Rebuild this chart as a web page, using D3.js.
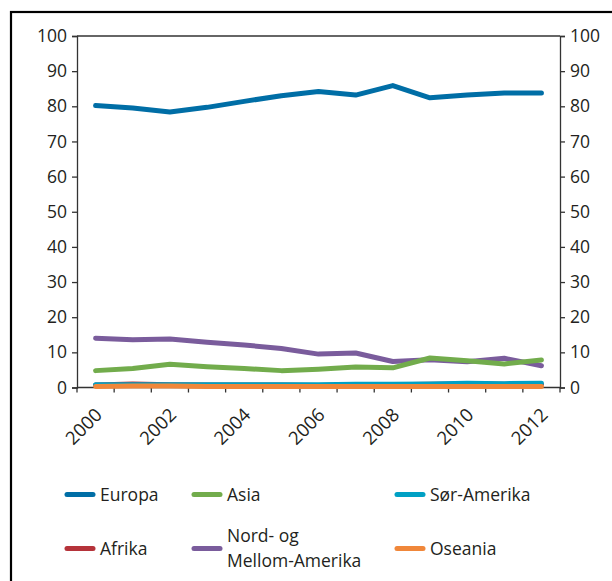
<!DOCTYPE html>
<html><head><meta charset="utf-8">
<script src="https://cdn.jsdelivr.net/npm/d3@7"></script>
<style>body{margin:0;background:#fff}svg{display:block}text{font-family:"Open Sans",sans-serif;fill:#231f20}</style>
</head><body><svg id="c" width="612" height="581"></svg>
<script>
const years = [2000,2001,2002,2003,2004,2005,2006,2007,2008,2009,2010,2011,2012];
const tickYears = [2000,2002,2004,2006,2008,2010,2012];
const yTicks = [0,10,20,30,40,50,60,70,80,90,100];
const europa = [80.2,79.5,78.4,79.7,81.4,83.0,84.2,83.2,85.9,82.4,83.2,83.8,83.8];
const afrika = [0.7,1.0,0.8,0.7,0.7,0.7,0.6,0.8,0.8,0.9,1.0,0.9,0.9];
const nordMellom = [14.0,13.6,13.8,12.9,12.1,11.1,9.5,9.8,7.4,7.9,7.3,8.3,6.2];
const asia = [4.8,5.4,6.6,5.9,5.4,4.8,5.2,5.8,5.6,8.4,7.6,6.7,7.8];
const sorAmerika = [0.8,0.8,0.8,0.8,0.8,0.8,0.8,0.9,0.9,1.0,1.2,1.1,1.2];
const oseania = [0.3,0.4,0.4,0.3,0.3,0.3,0.3,0.3,0.3,0.3,0.3,0.3,0.3];

const series = [
  {name:"Europa", values:europa, color:"#006ea6"},
  {name:"Afrika", values:afrika, color:"#b5333a"},
  {name:"Nord- og|Mellom-Amerika", values:nordMellom, color:"#7a5c9c"},
  {name:"Asia", values:asia, color:"#72ac4c"},
  {name:"Sør-Amerika", values:sorAmerika, color:"#00a0c4"},
  {name:"Oseania", values:oseania, color:"#f0873a"}
];
const legendOrder = ["Europa","Asia","Sør-Amerika","Afrika","Nord- og|Mellom-Amerika","Oseania"];

const svg = d3.select("#c");
svg.append("rect").attr("x",11).attr("y",12).attr("width",620).attr("height",600)
  .attr("fill","none").attr("stroke","#000").attr("stroke-width",2.2);

const L=77, R=560, T=36, B=387.5;
const x = d3.scaleBand().domain(years).range([L,R]).padding(0);
const y = d3.scaleLinear().domain([0,100]).range([B,T]);
const axCol = "#333";

svg.append("line").attr("x1",L).attr("x2",R).attr("y1",T).attr("y2",T).attr("stroke",axCol).attr("stroke-width",1.3);

const gl = svg.append("g").attr("transform",`translate(${L},0)`).call(d3.axisLeft(y).tickValues(yTicks).tickSize(5).tickPadding(5));
const gr = svg.append("g").attr("transform",`translate(${R},0)`).call(d3.axisRight(y).tickValues(yTicks).tickSize(5).tickPadding(5));
[gl,gr].forEach(g=>{
  g.select(".domain").attr("stroke",axCol).attr("stroke-width",1.3);
  g.selectAll(".tick line").attr("stroke",axCol).attr("stroke-width",1.3);
  g.selectAll(".tick text").style("font-size","17.5px").attr("fill","#231f20").style("font-family","'Open Sans',sans-serif");
});

svg.append("line").attr("x1",L).attr("x2",R).attr("y1",B).attr("y2",B).attr("stroke",axCol).attr("stroke-width",1.3);
const bounds = years.map(d=>x(d)).concat([R]);
svg.selectAll(".xt").data(bounds).join("line").attr("x1",d=>d).attr("x2",d=>d)
  .attr("y1",B).attr("y2",B+5).attr("stroke",axCol).attr("stroke-width",1.3);
svg.selectAll(".xl").data(tickYears).join("text")
  .attr("transform",d=>`translate(${x(d)+x.bandwidth()/2+3},${B+24}) rotate(-45)`)
  .attr("text-anchor","end").attr("dy","0.35em").style("font-size","18.5px").text(d=>d);

const line = d3.line().x((d,i)=>x(years[i])+x.bandwidth()/2).y(d=>y(d));
svg.selectAll(".s").data(series).join("path")
  .attr("d",d=>line(d.values)).attr("fill","none").attr("stroke",d=>d.color)
  .attr("stroke-width",5).attr("stroke-linecap","round").attr("stroke-linejoin","round");

const lx=[65,192,395], ly=[494.5,548.5];
legendOrder.forEach((n,i)=>{
  const s = series.find(e=>e.name===n);
  const cx = lx[i%3], cy = ly[Math.floor(i/3)];
  svg.append("line").attr("x1",cx+2).attr("x2",cx+28).attr("y1",cy).attr("y2",cy)
    .attr("stroke",s.color).attr("stroke-width",5).attr("stroke-linecap","round");
  const parts = n.split("|");
  const t = svg.append("text").attr("x",cx+35).attr("y",cy).style("font-size","17.5px");
  parts.forEach((p,j)=>{
    t.append("tspan").attr("x",cx+35).attr("dy", j===0 ? (0.35-(parts.length-1)*0.7)+"em" : "1.4em").text(p);
  });
});
</script></body></html>
